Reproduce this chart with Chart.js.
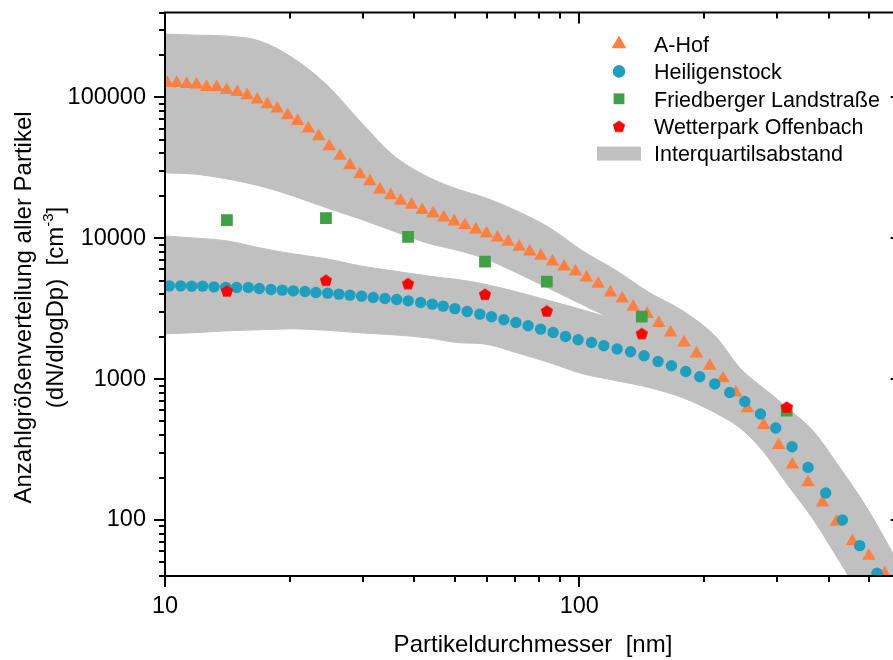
<!DOCTYPE html>
<html lang="de">
<head>
<meta charset="utf-8">
<title>Anzahlgrößenverteilung</title>
<script src="https://cdn.jsdelivr.net/npm/chart.js@4.4.1/dist/chart.umd.min.js"></script>
<style>
  html, body { margin: 0; padding: 0; overflow: hidden; background: #fff; }
  canvas { display: block; }
</style>
</head>
<body>
<canvas id="verteilung" width="910" height="660"></canvas>
<script>
"use strict";

// A-Hof: Partikeldurchmesser [nm] und dN/dlogDp [cm-3]
const aHofD = [10.13, 10.67, 11.28, 11.92, 12.60, 13.33, 14.09, 14.94, 15.79, 16.70,
  17.65, 18.66, 19.77, 20.90, 22.17, 23.49, 24.91, 26.44, 27.95, 29.54,
  31.23, 33.01, 35.04, 37.04, 39.37, 41.75, 44.39, 47.11, 49.89, 52.95,
  56.28, 59.72, 63.47, 67.34, 71.57, 75.95, 80.75, 86.15, 91.9, 97.9,
  104.1, 111.0, 118.9, 126.9, 134.9, 145.8, 155.5, 166.0, 179.0, 191.8,
  206.4, 222.3, 238.6, 254.6, 278.7, 302.9, 326.9, 356.5, 386.2, 417.4,
  456.1, 500.1, 545.8];
const aHofN = [126300, 126300, 124300, 122900, 118300, 118300, 112700, 109000, 103300, 96200,
  89200, 83000, 74530, 67900, 59900, 52900, 44930, 38340, 32940, 28440,
  25370, 22120, 20180, 18390, 17230, 15800, 14940, 14000, 13120, 12370,
  11510, 10780, 10100, 9415, 8678, 8035, 7490, 6823, 6290, 5797,
  5255, 4742, 4114, 3729, 3256, 2891, 2496, 2141, 1818, 1519,
  1243, 1010, 800, 619, 472, 340, 247, 185, 133, 97,
  70.5, 55.5, 41.6];

// Heiligenstock
const heiligD = [10.24, 10.91, 11.60, 12.33, 13.13, 14.01, 14.89, 15.89, 16.89, 18.02,
  19.19, 20.40, 21.77, 23.13, 24.69, 26.29, 27.95, 29.83, 31.81, 33.95,
  36.23, 38.64, 41.40, 44.15, 46.93, 50.08, 53.62, 57.54, 61.40, 65.74,
  70.29, 75.23, 80.63, 86.47, 92.62, 99.33, 107.0, 114.6, 123.4, 132.9,
  143.3, 154.9, 166.9, 180.7, 195.3, 212.3, 230.7, 250.8, 273.7, 298.0,
  326.2, 356.5, 393.3, 431.5, 475.0, 523.0];
const heiligN = [4588, 4588, 4566, 4566, 4514, 4478, 4462, 4462, 4391, 4320,
  4277, 4228, 4181, 4113, 4073, 4007, 3942, 3879, 3791, 3729,
  3669, 3592, 3494, 3403, 3294, 3162, 3015, 2891, 2766, 2634,
  2520, 2388, 2262, 2141, 2005, 1900, 1818, 1722, 1633, 1562,
  1463, 1333, 1243, 1132, 1038, 921.5, 803.5, 692.3, 564.7, 449.3,
  331.1, 236.1, 155.4, 100, 65.7, 41.8];

// Friedberger Landstraße und Wetterpark Offenbach (gleiche Durchmesser)
const stationD = [14.11, 24.46, 38.6, 59.2, 83.5, 141.5, 316.7];
const friedbergN = [13420, 13860, 10210, 6823, 4922, 2780, 596];
const wetterparkN = [4228, 5036, 4764, 4007, 3050, 2106, 633];

// Interquartilsabstand (Q1 / Q3)
const iqrD = [10, 11.68, 14.11, 16.95, 20.37, 24.59, 29.54, 35.49, 42.86, 51.48,
  58.50, 70.66, 84.87, 101.9, 123.1, 147.9, 177.7, 214.7, 243.9, 277.1,
  316.7, 365.9, 425.1, 493.9, 600];
const aHofQ1 = [29050, 28580, 26340, 23490, 19950, 16400, 13710, 11270, 9262, 8126,
  7251, 5675, 4370, 3365, 2507, 1588, 1203, 867.6, 646.4, 466.6,
  310.0, 190.0, 116.4, 71.3, 34.2];
const aHofQ3 = [281000, 276600, 272100, 250700, 190000, 122300, 67900, 38970, 27440, 22010,
  19630, 15620, 11830, 8126, 5864, 4094, 3050, 1963, 1203, 867.6,
  625.8, 429.9, 234.9, 122.2, 44.4];
const heiligQ1 = [2096, 2130, 2201, 2237, 2274, 2219, 2130, 2062, 1963, 1809,
  1780, 1537, 1305, 1091, 972.5, 867.6, 736.8, 567.5, 451.5, 310.0,
  180.9, 102.1, 50.6, 24.7, 10.05];
const heiligQ3 = [10380, 10050, 9570, 8535, 7739, 7133, 6361, 5864, 5403, 5062,
  4742, 4160, 3592, 3100, 2591, 2028, 1640, 1305, 1073, 867.6,
  625.8, 429.9, 234.9, 122.2, 44.4];

// Achsen
const xTicks = [10, 20, 30, 40, 50, 60, 70, 80, 90, 100, 200, 300, 400, 500, 600];
const xLabels = [10, 100];
const yTicks = [40, 50, 60, 70, 80, 90,
  100, 200, 300, 400, 500, 600, 700, 800, 900,
  1000, 2000, 3000, 4000, 5000, 6000, 7000, 8000, 9000,
  10000, 20000, 30000, 40000, 50000, 60000, 70000, 80000, 90000,
  100000, 200000, 300000, 400000];
const yLabels = [100, 1000, 10000, 100000];

const seriesNames = ['A-Hof', 'Heiligenstock', 'Friedberger Landstraße', 'Wetterpark Offenbach', 'Interquartilsabstand'];
const xTitle = 'Partikeldurchmesser  [nm]';
const yTitle1 = 'Anzahlgrößenverteilung aller Partikel';
const yTitle2 = ['(dN/dlogDp)  [cm', '-3', ']'];

const FONT = '"Liberation Sans", Arial, sans-serif';
const ORANGE = '#FF8040';
const BLUE = '#1F9FBF';
const GREEN = '#3FA046';
const RED = '#FF0000';
const GRAU = '#C0C0C0';

// Fünfeck als Punktstil
function makePentagon(size, color) {
  const c = document.createElement('canvas');
  c.width = size;
  c.height = size;
  const g = c.getContext('2d');
  const r = size * 0.46;
  const cx = size / 2;
  const cy = size / 2 + 0.0955 * r;
  g.fillStyle = color;
  g.beginPath();
  for (let i = 0; i < 5; i++) {
    const a = -Math.PI / 2 + i * 2 * Math.PI / 5;
    const px = cx + r * Math.cos(a);
    const py = cy + r * Math.sin(a);
    if (i === 0) g.moveTo(px, py); else g.lineTo(px, py);
  }
  g.closePath();
  g.fill();
  return c;
}
const pentagon = makePentagon(14, RED);

const toXY = (xs, ys) => xs.map((x, i) => ({ x: x, y: ys[i] }));

function band(data, fill) {
  return {
    data: data,
    showLine: true,
    fill: fill,
    backgroundColor: GRAU,
    borderColor: GRAU,
    borderWidth: 1,
    pointRadius: 0,
    cubicInterpolationMode: 'monotone',
    order: 10
  };
}

function marker(label, data, style, radius, color, order) {
  return {
    label: label,
    data: data,
    pointStyle: style,
    pointRadius: radius,
    pointBackgroundColor: color,
    pointBorderWidth: 0,
    backgroundColor: color,
    borderColor: color,
    order: order
  };
}

// Achsenrahmen mit Haupt- und Nebenstrichen
const achsenRahmen = {
  id: 'achsenRahmen',
  afterDatasetsDraw(chart) {
    const { ctx, chartArea: a, scales } = chart;
    ctx.save();
    ctx.strokeStyle = '#000';
    ctx.lineWidth = 2;
    ctx.strokeRect(a.left, a.top, a.right - a.left, a.bottom - a.top);
    ctx.beginPath();
    xTicks.forEach(v => {
      const px = Math.round(scales.x.getPixelForValue(v));
      const len = xLabels.includes(v) ? 11 : 6;
      ctx.moveTo(px, a.bottom); ctx.lineTo(px, a.bottom + len);
      ctx.moveTo(px, a.top); ctx.lineTo(px, a.top + len);
    });
    yTicks.forEach(v => {
      const py = Math.round(scales.y.getPixelForValue(v));
      const len = yLabels.includes(v) ? 11 : 6;
      ctx.moveTo(a.left, py); ctx.lineTo(a.left - len, py);
      ctx.moveTo(a.right, py); ctx.lineTo(a.right - len, py);
    });
    ctx.stroke();
    ctx.restore();
  }
};

function drawSymbol(ctx, kind, x, y) {
  ctx.beginPath();
  if (kind === 'triangle') {
    const r = 8.5;
    ctx.fillStyle = ORANGE;
    ctx.moveTo(x, y - r);
    ctx.lineTo(x + r * Math.sin(2 * Math.PI / 3), y + r / 2);
    ctx.lineTo(x - r * Math.sin(2 * Math.PI / 3), y + r / 2);
    ctx.closePath();
    ctx.fill();
  } else if (kind === 'circle') {
    ctx.fillStyle = BLUE;
    ctx.arc(x, y, 6.3, 0, 2 * Math.PI);
    ctx.fill();
  } else if (kind === 'rect') {
    ctx.fillStyle = GREEN;
    ctx.fillRect(x - 5.4, y - 5.4, 10.8, 10.8);
  } else if (kind === 'pentagon') {
    ctx.drawImage(pentagon, x - pentagon.width / 2, y - pentagon.height / 2);
  } else {
    ctx.fillStyle = GRAU;
    ctx.fillRect(x - 22, y - 7, 44, 14);
  }
}

// Legende und Achsentitel
const beschriftung = {
  id: 'beschriftung',
  afterDraw(chart) {
    const ctx = chart.ctx;
    const kinds = ['triangle', 'circle', 'rect', 'pentagon', 'band'];
    ctx.save();
    seriesNames.forEach((name, i) => {
      const cy = 44 + i * 27.4;
      drawSymbol(ctx, kinds[i], 619, cy);
      ctx.fillStyle = '#000';
      ctx.font = '21.5px ' + FONT;
      ctx.textAlign = 'left';
      ctx.textBaseline = 'alphabetic';
      ctx.fillText(name, 654, cy + 7.7);
    });

    ctx.fillStyle = '#000';
    ctx.font = '24px ' + FONT;
    ctx.textAlign = 'center';
    ctx.fillText(xTitle, 533, 652);

    ctx.save();
    ctx.translate(31, 307.5);
    ctx.rotate(-Math.PI / 2);
    ctx.fillText(yTitle1, 0, 0);
    ctx.restore();

    ctx.save();
    ctx.translate(63, 307.5);
    ctx.rotate(-Math.PI / 2);
    ctx.textAlign = 'left';
    ctx.font = '24px ' + FONT;
    const w1 = ctx.measureText(yTitle2[0]).width;
    const w3 = ctx.measureText(yTitle2[2]).width;
    ctx.font = '15px ' + FONT;
    const w2 = ctx.measureText(yTitle2[1]).width;
    let x0 = -(w1 + w2 + w3) / 2;
    ctx.font = '24px ' + FONT;
    ctx.fillText(yTitle2[0], x0, 0);
    ctx.font = '15px ' + FONT;
    ctx.fillText(yTitle2[1], x0 + w1, -10);
    ctx.font = '24px ' + FONT;
    ctx.fillText(yTitle2[2], x0 + w1 + w2, 0);
    ctx.restore();
    ctx.restore();
  }
};

Chart.defaults.font.family = FONT;
Chart.defaults.color = '#000';

new Chart(document.getElementById('verteilung'), {
  type: 'scatter',
  data: {
    datasets: [
      band(toXY(iqrD, aHofQ1), false),
      band(toXY(iqrD, aHofQ3), '-1'),
      band(toXY(iqrD, heiligQ1), false),
      band(toXY(iqrD, heiligQ3), '-1'),
      marker(seriesNames[0], toXY(aHofD, aHofN), 'triangle', 7.8, ORANGE, 3),
      marker(seriesNames[1], toXY(heiligD, heiligN), 'circle', 5.7, BLUE, 2),
      marker(seriesNames[2], toXY(stationD, friedbergN), 'rect', 8.3, GREEN, 1),
      marker(seriesNames[3], toXY(stationD, wetterparkN), pentagon, 7, RED, 0)
    ]
  },
  options: {
    responsive: false,
    animation: false,
    devicePixelRatio: 1,
    events: [],
    layout: { padding: { top: 12.5, right: 8, left: 0, bottom: 0 } },
    plugins: {
      legend: { display: false },
      tooltip: { enabled: false }
    },
    scales: {
      x: {
        type: 'logarithmic',
        min: 10,
        max: 600,
        afterBuildTicks: s => { s.ticks = xTicks.map(v => ({ value: v })); },
        afterFit: s => { s.height = 84; s.paddingLeft = 0; s.paddingRight = 0; },
        grid: { display: false, drawTicks: false },
        border: { display: false },
        ticks: {
          autoSkip: false,
          maxRotation: 0,
          padding: 16.5,
          font: { size: 23.5 },
          callback: v => xLabels.includes(v) ? String(v) : ''
        }
      },
      y: {
        type: 'logarithmic',
        min: 40,
        max: 400000,
        afterBuildTicks: s => { s.ticks = yTicks.map(v => ({ value: v })); },
        afterFit: s => { s.width = 165; s.paddingTop = 0; s.paddingBottom = 0; },
        grid: { display: false, drawTicks: false },
        border: { display: false },
        ticks: {
          autoSkip: false,
          padding: 19,
          font: { size: 23.5 },
          callback: v => yLabels.includes(v) ? String(v) : ''
        }
      }
    }
  },
  plugins: [achsenRahmen, beschriftung]
});
</script>
</body>
</html>
